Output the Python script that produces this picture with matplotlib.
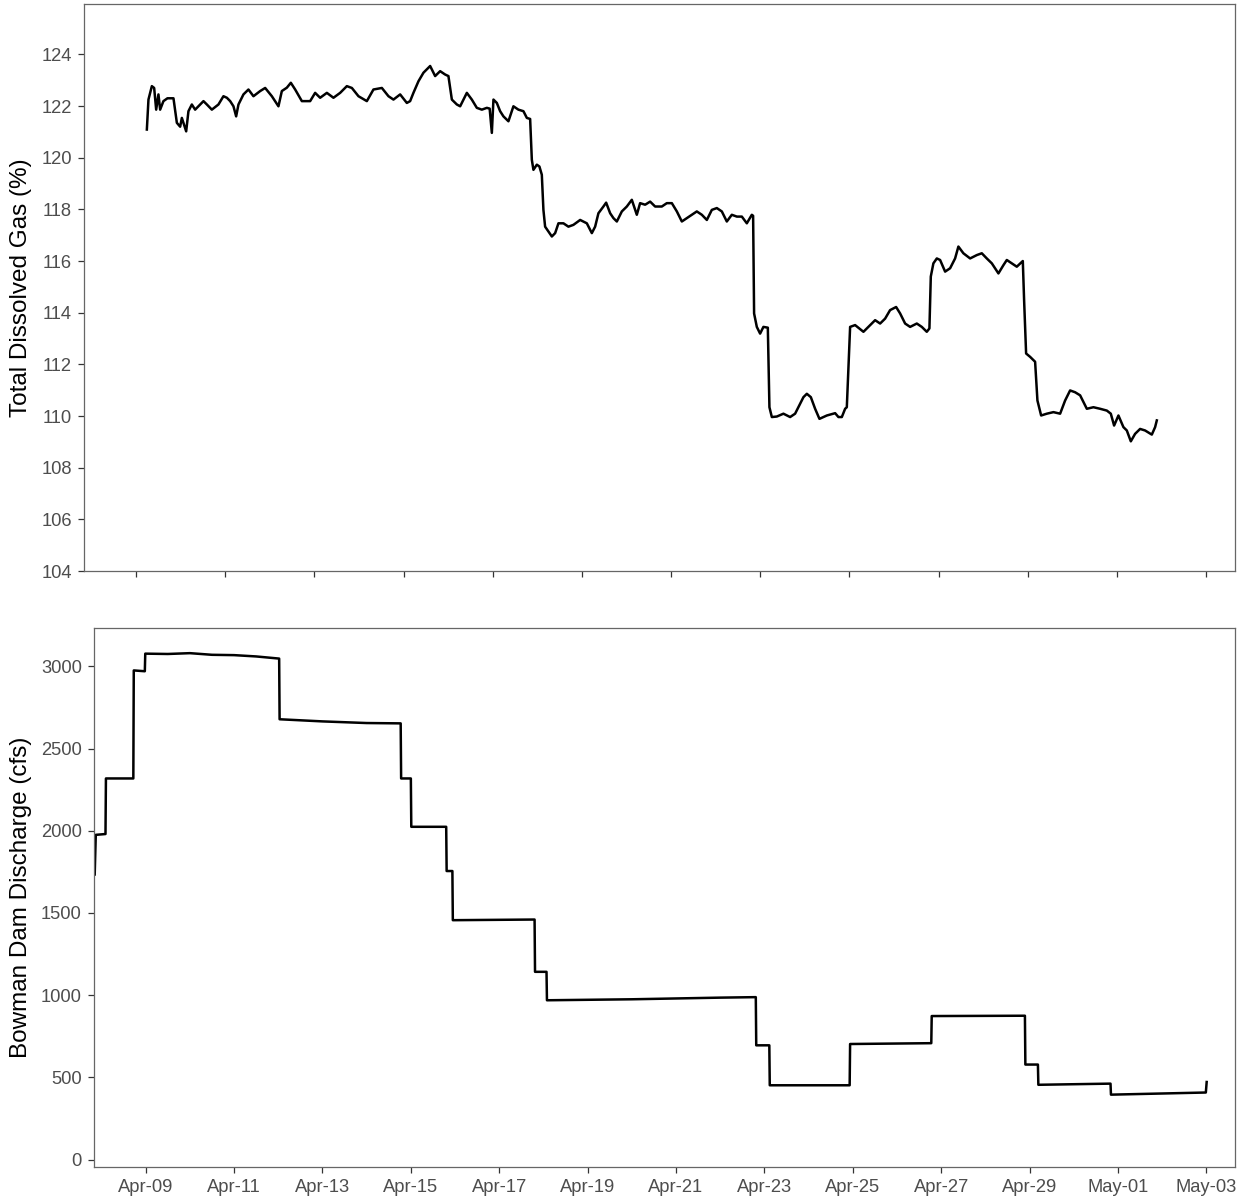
import numpy as np
import pandas as pd
import matplotlib
matplotlib.use("Agg")
import matplotlib.pyplot as plt
import matplotlib.dates as mdates

plt.rcParams['font.family'] = ['Liberation Sans', 'DejaVu Sans']

BASE = pd.Timestamp("2019-04-09")

# Total dissolved gas (%): time in days since Apr-09 00:00, value
tdg_days = [0.240, 0.276, 0.352, 0.404, 0.449, 0.500, 0.538, 0.612, 0.702, 0.837,
            0.913, 0.987, 1.025, 1.122, 1.173, 1.249, 1.323, 1.436, 1.510, 1.586,
            1.698, 1.846, 1.958, 2.035, 2.109, 2.183, 2.243, 2.295, 2.407, 2.519,
            2.631, 2.782, 2.894, 3.044, 3.192, 3.268, 3.380, 3.470, 3.567, 3.717,
            3.903, 4.015, 4.127, 4.278, 4.426, 4.576, 4.726, 4.839, 4.987, 5.175,
            5.323, 5.512, 5.660, 5.772, 5.922, 6.072, 6.146, 6.220, 6.333, 6.445,
            6.595, 6.707, 6.819, 6.931, 7.005, 7.082, 7.194, 7.268, 7.418, 7.530,
            7.642, 7.755, 7.867, 7.930, 7.979, 8.015, 8.091, 8.165, 8.239, 8.351,
            8.463, 8.575, 8.688, 8.764, 8.838, 8.876, 8.912, 8.988, 9.046, 9.100,
            9.136, 9.174, 9.248, 9.325, 9.399, 9.473, 9.585, 9.697, 9.809, 9.960,
            10.110, 10.222, 10.296, 10.370, 10.482, 10.543, 10.633, 10.707, 10.783, 10.895,
            11.007, 11.119, 11.231, 11.305, 11.418, 11.530, 11.642, 11.792, 11.904, 12.017,
            12.129, 12.241, 12.353, 12.465, 12.577, 12.690, 12.802, 12.914, 13.026, 13.138,
            13.250, 13.362, 13.475, 13.587, 13.699, 13.811, 13.840, 13.862, 13.923, 13.997,
            14.071, 14.170, 14.206, 14.260, 14.372, 14.520, 14.670, 14.782, 14.894, 14.969,
            15.045, 15.135, 15.231, 15.328, 15.494, 15.680, 15.754, 15.830, 15.904, 15.942,
            16.016, 16.128, 16.315, 16.465, 16.577, 16.689, 16.801, 16.913, 17.048, 17.138,
            17.250, 17.362, 17.512, 17.624, 17.736, 17.795, 17.826, 17.884, 17.961, 18.035,
            18.147, 18.259, 18.371, 18.445, 18.557, 18.708, 18.858, 18.970, 19.082, 19.195,
            19.343, 19.455, 19.531, 19.643, 19.755, 19.890, 19.919, 19.964, 20.054, 20.166,
            20.218, 20.301, 20.429, 20.577, 20.727, 20.839, 20.951, 21.063, 21.176, 21.326,
            21.474, 21.624, 21.775, 21.864, 21.938, 22.035, 22.147, 22.223, 22.313, 22.409,
            22.521, 22.633, 22.784, 22.858, 22.896]
tdg_vals = [121.09, 122.25, 122.77, 122.70, 121.86, 122.45, 121.86, 122.19, 122.30, 122.30,
            121.35, 121.20, 121.54, 121.02, 121.80, 122.06, 121.86, 122.06, 122.19, 122.06,
            121.86, 122.06, 122.38, 122.32, 122.19, 121.99, 121.60, 122.06, 122.45, 122.64,
            122.38, 122.58, 122.70, 122.38, 121.99, 122.58, 122.71, 122.90, 122.64, 122.19,
            122.19, 122.51, 122.32, 122.51, 122.32, 122.51, 122.77, 122.70, 122.38, 122.19,
            122.64, 122.70, 122.38, 122.25, 122.45, 122.12, 122.19, 122.51, 122.96, 123.29,
            123.55, 123.16, 123.35, 123.22, 123.16, 122.25, 122.06, 121.99, 122.51, 122.25,
            121.93, 121.86, 121.93, 121.90, 120.96, 122.25, 122.12, 121.80, 121.60, 121.41,
            121.99, 121.86, 121.80, 121.54, 121.50, 119.92, 119.53, 119.73, 119.66, 119.34,
            117.98, 117.33, 117.14, 116.95, 117.08, 117.46, 117.46, 117.33, 117.40, 117.59,
            117.46, 117.08, 117.33, 117.85, 118.11, 118.26, 117.85, 117.66, 117.53, 117.92,
            118.11, 118.37, 117.79, 118.24, 118.18, 118.30, 118.11, 118.11, 118.24, 118.24,
            117.92, 117.53, 117.66, 117.79, 117.92, 117.79, 117.59, 117.98, 118.05, 117.92,
            117.53, 117.79, 117.72, 117.72, 117.46, 117.79, 117.75, 113.97, 113.45, 113.19,
            113.45, 113.42, 110.34, 109.96, 109.98, 110.09, 109.96, 110.09, 110.47, 110.73,
            110.86, 110.73, 110.28, 109.89, 110.02, 110.11, 109.96, 109.96, 110.28, 110.34,
            113.45, 113.52, 113.26, 113.52, 113.71, 113.58, 113.77, 114.10, 114.22, 113.97,
            113.58, 113.45, 113.58, 113.45, 113.26, 113.39, 115.40, 115.91, 116.10, 116.04,
            115.59, 115.72, 116.10, 116.56, 116.30, 116.10, 116.23, 116.30, 116.10, 115.91,
            115.52, 115.84, 116.04, 115.91, 115.78, 116.00, 114.49, 112.42, 112.29, 112.10,
            110.60, 110.02, 110.09, 110.15, 110.09, 110.60, 110.99, 110.92, 110.80, 110.28,
            110.34, 110.28, 110.21, 110.09, 109.63, 110.02, 109.57, 109.44, 109.02, 109.31,
            109.50, 109.44, 109.28, 109.57, 109.83]

# Bowman Dam discharge (cfs)
q_days = [-1.154, -1.130, -0.910, -0.900, -0.280, -0.270, -0.020, -0.010, 0.500, 1.000,
          1.500, 2.000, 2.500, 3.020, 3.030, 4.000, 5.000, 5.770, 5.780, 6.000,
          6.010, 6.800, 6.810, 6.940, 6.950, 8.800, 8.810, 9.070, 9.080, 11.000,
          13.000, 13.806, 13.816, 14.112, 14.122, 15.930, 15.940, 17.777, 17.787, 19.896,
          19.906, 20.190, 20.200, 21.833, 21.843, 23.000, 23.990, 24.009]
q_vals = [1734, 1975, 1980, 2318, 2318, 2975, 2970, 3077, 3075, 3080,
          3070, 3068, 3060, 3047, 2678, 2665, 2655, 2653, 2318, 2318,
          2024, 2024, 1755, 1755, 1456, 1460, 1142, 1142, 969, 975,
          985, 988, 695, 695, 452, 452, 703, 708, 873, 875,
          578, 578, 455, 462, 395, 402, 408, 472]

tick_dates = pd.date_range("2019-04-09", "2019-05-03", freq="2D")
xlim = (BASE + pd.Timedelta(days=-1.17), BASE + pd.Timedelta(days=24.65))

tdg_t = BASE + pd.to_timedelta(tdg_days, unit="D")
q_t = BASE + pd.to_timedelta(q_days, unit="D")

W, H = 1238, 1204
fig = plt.figure(figsize=(W / 100, H / 100), dpi=100)

def px_axes(l, t, r, b):
    return fig.add_axes([l / W, 1 - b / H, (r - l) / W, (b - t) / H])

ax1 = px_axes(84, 4, 1235, 571)
ax2 = px_axes(94, 628, 1235, 1167)

ax1.plot(tdg_t, tdg_vals, color="black", lw=1.8)
ax2.plot(q_t, q_vals, color="black", lw=1.8)

ax1.set_ylim(104, 125.95)
ax1.set_yticks(np.arange(104, 125, 2))
ax2.set_ylim(-45, 3233)
ax2.set_yticks([0, 500, 1000, 1500, 2000, 2500, 3000])

for ax in (ax1, ax2):
    ax.set_xlim(*xlim)
    ax.set_xticks(tick_dates)
    ax.xaxis.set_major_formatter(mdates.DateFormatter("%b-%d"))
    for s in ax.spines.values():
        s.set_color("#666666")
        s.set_linewidth(0.9)
    ax.tick_params(axis="both", direction="out", length=4.3, width=0.9,
                   color="#333333", labelcolor="#4d4d4d", labelsize=13.2, pad=4.5)

ax1.tick_params(axis="x", labelbottom=False)

ax1.set_ylabel("Total Dissolved Gas (%)", fontsize=17.5, color="black")
ax2.set_ylabel("Bowman Dam Discharge (cfs)", fontsize=17.5, color="black")
ax1.yaxis.label.set_verticalalignment("center")
ax2.yaxis.label.set_verticalalignment("center")
ax1.yaxis.set_label_coords((21 - 84) / (1235 - 84), 0.5)
ax2.yaxis.set_label_coords((21 - 94) / (1235 - 94), 0.5)

fig.savefig("out.png", dpi=100, facecolor="white")
